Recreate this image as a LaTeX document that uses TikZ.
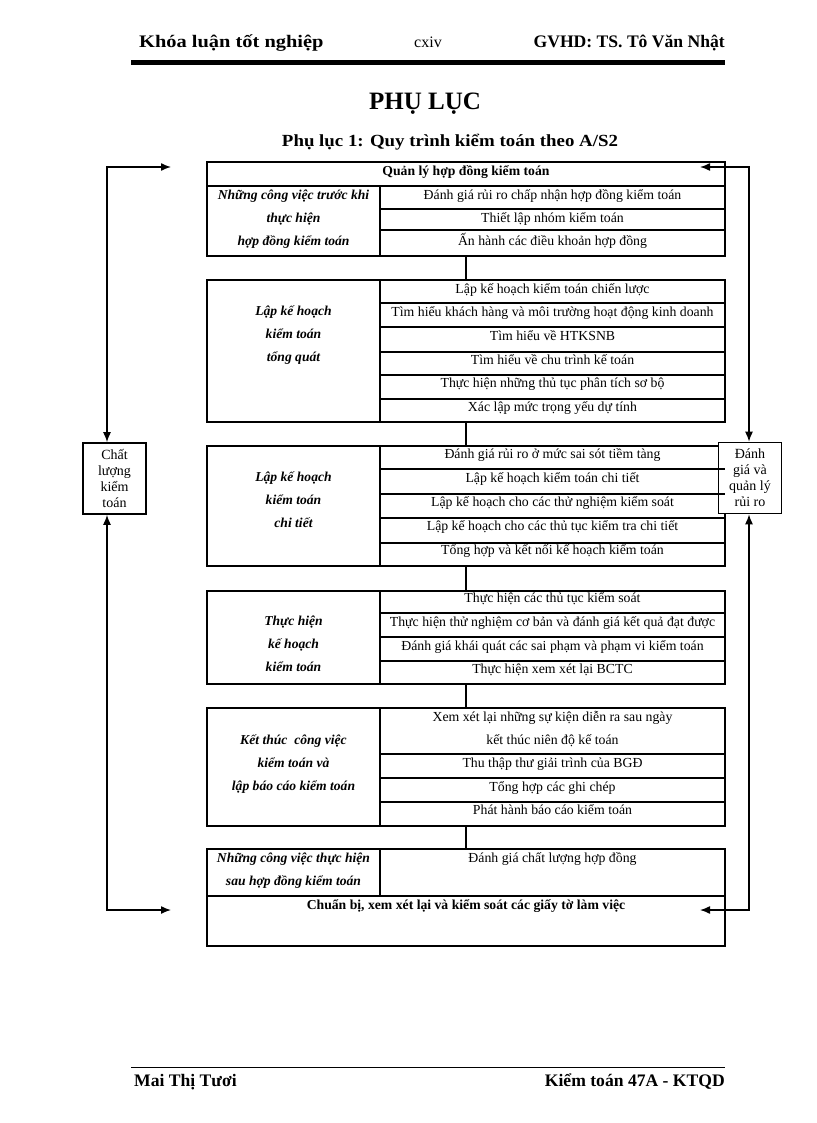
\documentclass[tikz,border=0pt]{standalone}
\usepackage{fontspec}
\setmainfont{Liberation Serif}
\newfontfamily\hwide[FakeStretch=1.16]{Liberation Serif}
\newfontfamily\swide[FakeStretch=1.11]{Liberation Serif}
\usetikzlibrary{arrows.meta}
\begin{document}
\begin{tikzpicture}[x=1pt,y=-1pt,
  blk/.style={draw, line width=1.4pt, minimum width=518pt, inner sep=0pt, outer sep=0pt, anchor=north west},
  gridline/.style={line width=1.2pt},
  cell/.style={anchor=base, inner sep=0pt, font=\fontsize{13.8}{15}\selectfont},
  lab/.style={anchor=base, inner sep=0pt, font=\fontsize{13.6}{15}\selectfont\bfseries\itshape},
  hd/.style={anchor=base, inner sep=0pt, font=\fontsize{13.7}{15}\selectfont\bfseries},
  side/.style={draw, fill=white, line width=1.6pt, minimum width=63pt, minimum height=71pt, inner sep=0pt, align=center, font=\fontsize{14}{16}\selectfont},
  link/.style={line width=1.2pt},
  arr/.style={line width=1.4pt, {Latex[length=10pt,width=8pt]}-{Latex[length=10pt,width=8pt]}},
  ftxt/.style={inner sep=0pt, font=\fontsize{17.6}{20}\selectfont\bfseries}
]
\useasboundingbox (0,0) rectangle (816,1123);

% header
\node[inner sep=0pt, anchor=base west, font=\hwide\fontsize{17.6}{20}\selectfont\bfseries] (hleft) at (139,48) {Khóa luận tốt nghiệp};
\node[inner sep=0pt, anchor=base, font=\fontsize{16}{18}\selectfont] (hpage) at (428,48) {cxiv};
\node[inner sep=0pt, anchor=base east, font=\fontsize{17.6}{20}\selectfont\bfseries] (hright) at (725,48) {GVHD: TS. Tô Văn Nhật};
\draw[line width=5pt] (131,62.5) -- (725,62.5);

\node[inner sep=0pt, anchor=base, font=\fontsize{25}{28}\selectfont\bfseries] (title) at (425,110) {PHỤ LỤC};
\node[inner sep=0pt, anchor=base, font=\swide\fontsize{17}{20}\selectfont\bfseries] (subtitle) at (450,147) {Phụ lục 1: Quy trình kiểm toán theo A/S2};

% blocks
\node[blk, minimum height=94pt] (b1) at (207,162) {};
\node[blk, minimum height=142pt] (b2) at (207,280) {};
\node[blk, minimum height=120pt] (b3) at (207,446) {};
\node[blk, minimum height=93pt] (b4) at (207,591) {};
\node[blk, minimum height=118pt] (b5) at (207,708) {};
\node[blk, minimum height=97pt] (b6) at (207,849) {};

\draw[link] (b1.south) -- (b2.north);
\draw[link] (b2.south) -- (b3.north);
\draw[link] (b3.south) -- (b4.north);
\draw[link] (b4.south) -- (b5.north);
\draw[link] (b5.south) -- (b6.north);

% block 1 grid
\draw[gridline] (207,186) -- (725,186);
\draw[gridline] (380,186) -- (380,256);
\draw[gridline] (380,209) -- (725,209);
\draw[gridline] (380,230) -- (725,230);
% block 2 grid
\draw[gridline] (380,280) -- (380,422);
\foreach \yy in {303,327,352,375,399} \draw[gridline] (380,\yy) -- (725,\yy);
% block 3 grid
\draw[gridline] (380,446) -- (380,566);
\foreach \yy in {518,543} \draw[gridline] (380,\yy) -- (725,\yy);
% block 4 grid
\draw[gridline] (380,591) -- (380,684);
\foreach \yy in {613,637,661} \draw[gridline] (380,\yy) -- (725,\yy);
% block 5 grid
\draw[gridline] (380,708) -- (380,826);
\foreach \yy in {754,778,802} \draw[gridline] (380,\yy) -- (725,\yy);
% block 6 grid
\draw[gridline] (380,849) -- (380,896);
\draw[gridline] (207,896) -- (725,896);

% block 1 texts
\node[hd] (t1h) at (466,175.5) {Quản lý hợp đồng kiểm toán};
\node[lab] (l1a) at (293.5,199.5) {Những công việc trước khi};
\node[lab] (l1b) at (293.5,222.5) {thực hiện};
\node[lab] (l1c) at (293.5,245.5) {hợp đồng kiểm toán};
\node[cell] (r1a) at (552.5,199.5) {Đánh giá rủi ro chấp nhận hợp đồng kiểm toán};
\node[cell] (r1b) at (552.5,222.5) {Thiết lập nhóm kiểm toán};
\node[cell] (r1c) at (552.5,245.5) {Ấn hành các điều khoản hợp đồng};

% block 2 texts
\node[lab] (l2a) at (293.5,315.5) {Lập kế hoạch};
\node[lab] (l2b) at (293.5,338.5) {kiểm toán};
\node[lab] (l2c) at (293.5,361.5) {tổng quát};
\node[cell] (r2a) at (552.5,293.5) {Lập kế hoạch kiểm toán chiến lược};
\node[cell] (r2b) at (552.5,316.5) {Tìm hiểu khách hàng và môi trường hoạt động kinh doanh};
\node[cell] (r2c) at (552.5,340.5) {Tìm hiểu về HTKSNB};
\node[cell] (r2d) at (552.5,364.5) {Tìm hiểu về chu trình kế toán};
\node[cell] (r2e) at (552.5,387.5) {Thực hiện những thủ tục phân tích sơ bộ};
\node[cell] (r2f) at (552.5,411.5) {Xác lập mức trọng yếu dự tính};

% block 3 texts
\node[lab] (l3a) at (293.5,481.5) {Lập kế hoạch};
\node[lab] (l3b) at (293.5,504.5) {kiểm toán};
\node[lab] (l3c) at (293.5,527.5) {chi tiết};
\node[cell] (r3a) at (552.5,458.5) {Đánh giá rủi ro ở mức sai sót tiềm tàng};
\node[cell] (r3b) at (552.5,482.5) {Lập kế hoạch kiểm toán chi tiết};
\node[cell] (r3c) at (552.5,506.5) {Lập kế hoạch cho các thử nghiệm kiểm soát};
\node[cell] (r3d) at (552.5,530.5) {Lập kế hoạch cho các thủ tục kiểm tra chi tiết};
\node[cell] (r3e) at (552.5,554.5) {Tổng hợp và kết nối kế hoạch kiểm toán};

% block 4 texts
\node[lab] (l4a) at (293.5,625.5) {Thực hiện};
\node[lab] (l4b) at (293.5,648.5) {kế hoạch};
\node[lab] (l4c) at (293.5,671.5) {kiểm toán};
\node[cell] (r4a) at (552.5,602.5) {Thực hiện các thủ tục kiểm soát};
\node[cell] (r4b) at (552.5,626.5) {Thực hiện thử nghiệm cơ bản và đánh giá kết quả đạt được};
\node[cell] (r4c) at (552.5,650.5) {Đánh giá khái quát các sai phạm và phạm vi kiểm toán};
\node[cell] (r4d) at (552.5,673.5) {Thực hiện xem xét lại BCTC};

% block 5 texts
\node[lab] (l5a) at (293.5,744.5) {Kết thúc\ \ công việc};
\node[lab] (l5b) at (293.5,767.5) {kiểm toán và};
\node[lab] (l5c) at (293.5,790.5) {lập báo cáo kiểm toán};
\node[cell] (r5a) at (552.5,721.5) {Xem xét lại những sự kiện diễn ra sau ngày};
\node[cell] (r5b) at (552.5,744.5) {kết thúc niên độ kế toán};
\node[cell] (r5c) at (552.5,767.5) {Thu thập thư giải trình của BGĐ};
\node[cell] (r5d) at (552.5,791.5) {Tổng hợp các ghi chép};
\node[cell] (r5e) at (552.5,814.5) {Phát hành báo cáo kiểm toán};

% block 6 texts
\node[lab] (l6a) at (293.5,862.5) {Những công việc thực hiện};
\node[lab] (l6b) at (293.5,885.5) {sau hợp đồng kiểm toán};
\node[cell] (r6a) at (552.5,862.5) {Đánh giá chất lượng hợp đồng};
\node[hd] (t6b) at (466,909.5) {Chuẩn bị, xem xét lại và kiểm soát các giấy tờ làm việc};

% side boxes
\node[side] (qual) at (114.5,478.5) {Chất\\lượng\\kiểm\\toán};
\node[side] (risk) at (750,478) {Đánh\\giá và\\quản lý\\rủi ro};
\foreach \yy in {469,494} \draw[gridline] (380,\yy) -- (725,\yy);

% feedback arrows
\coordinate (ltop) at (171,167);
\coordinate (lbot) at (171,910);
\coordinate (rtop) at (700,167);
\coordinate (rbot) at (700,910);
\draw[arr] (107,0 |- qual.north) |- (ltop);
\draw[arr] (107,0 |- qual.south) |- (lbot);
\draw[arr] (749,0 |- risk.north) |- (rtop);
\draw[arr] (749,0 |- risk.south) |- (rbot);

% footer
\draw[line width=0.9pt] (131,1067) -- (725,1067);
\node[ftxt, anchor=base west] (fleft) at (134,1086) {Mai Thị Tươi};
\node[ftxt, anchor=base east] (fright) at (725,1086) {Kiểm toán 47A - KTQD};
\end{tikzpicture}
\end{document}
